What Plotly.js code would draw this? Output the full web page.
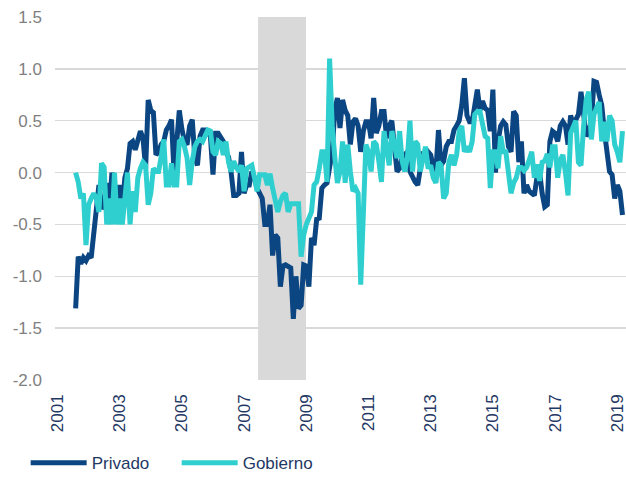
<!DOCTYPE html>
<html>
<head>
<meta charset="utf-8">
<script src="https://cdn.plot.ly/plotly-3.0.1.min.js"></script>
<style>html,body{margin:0;padding:0;background:#fff}#chart{width:626px;height:477px}</style>
</head>
<body>
<div id="chart"></div>
<script>
// Monthly series starting August 2001
const startYear = 2001;
const startMonth = 8;
const privado = [
-1.31,-0.81,-0.88,-0.82,-0.85,-0.80,-0.82,-0.60,-0.35,-0.12,
-0.35,-0.30,-0.10,-0.38,0.00,-0.20,-0.35,-0.12,-0.35,-0.05,
0.04,0.28,0.30,0.22,0.30,0.40,0.33,0.04,0.70,0.60,
0.58,0.17,0.20,0.27,0.30,0.41,0.45,0.51,-0.02,0.30,
0.60,0.42,0.30,0.27,0.45,0.51,0.14,0.07,0.35,0.41,
0.41,0.38,0.35,-0.02,0.38,0.38,0.33,0.30,0.20,0.15,
0.00,-0.22,-0.22,-0.20,0.20,-0.20,-0.12,-0.12,0.01,-0.05,
-0.15,-0.20,-0.25,-0.50,-0.50,-0.31,-0.80,-0.60,-0.63,-1.10,
-0.90,-0.89,-0.90,-0.92,-1.41,-1.00,-1.31,-1.28,-0.89,-0.90,
-1.10,-0.63,-0.70,-0.45,-0.44,-0.15,-0.12,-0.10,0.05,0.20,
0.60,0.72,0.43,0.70,0.60,0.55,0.27,0.49,0.52,0.45,
0.20,0.40,0.49,0.49,0.33,0.72,0.38,0.45,0.59,0.59,
0.33,0.45,0.50,0.27,0.01,0.04,0.15,0.17,0.20,0.01,
-0.05,-0.09,-0.12,0.07,0.20,0.17,0.20,0.17,0.05,0.01,
0.41,0.07,0.11,0.25,0.30,0.30,0.41,0.45,0.50,0.65,
0.91,0.55,0.49,0.49,0.62,0.80,0.60,0.69,0.62,0.60,
0.40,0.80,0.00,0.30,0.45,0.49,0.46,0.25,0.20,0.59,
0.55,0.10,0.30,-0.20,-0.12,-0.18,-0.20,-0.22,-0.05,0.01,
-0.20,-0.33,-0.31,0.30,0.40,0.38,0.30,0.45,0.49,0.45,
0.27,0.55,0.46,0.50,0.56,0.78,0.60,0.35,0.40,0.49,
0.88,0.87,0.75,0.65,0.40,0.15,0.01,-0.02,-0.25,-0.12,
-0.18,-0.41
];
const gobierno = [
0.00,-0.09,-0.25,-0.20,-0.70,-0.31,-0.25,-0.20,-0.25,-0.38,
0.09,0.05,-0.50,-0.25,-0.50,0.00,-0.50,-0.25,-0.50,-0.25,
0.00,-0.50,-0.18,-0.38,-0.05,0.04,0.10,0.07,-0.31,-0.20,
0.04,0.01,0.01,0.15,0.32,-0.12,-0.12,0.09,-0.12,-0.12,
0.30,0.32,0.25,0.14,-0.12,0.11,0.25,0.30,0.32,0.30,
0.35,0.41,0.40,0.20,0.17,0.30,0.28,0.17,0.30,0.10,
0.01,0.11,0.05,0.01,0.07,-0.18,0.04,0.05,0.07,-0.05,
-0.18,-0.02,-0.02,-0.02,-0.12,-0.01,-0.15,-0.25,-0.38,-0.28,
-0.22,-0.20,-0.38,-0.30,-0.30,-0.30,-0.30,-0.81,-0.60,-0.50,
-0.44,-0.38,-0.12,-0.09,0.04,0.20,0.20,-0.09,1.10,0.45,
0.15,-0.10,0.01,0.30,-0.10,0.27,0.01,-0.18,-0.15,-0.20,
-1.08,-0.30,0.27,0.20,0.01,0.30,0.27,0.11,-0.09,0.40,
0.20,0.07,0.40,0.27,0.14,0.40,0.11,0.01,0.14,0.50,
0.01,0.30,0.27,0.01,0.15,0.25,0.04,0.07,-0.05,-0.10,
0.10,0.07,-0.25,-0.20,0.10,0.17,0.07,0.17,0.40,0.45,
0.20,0.25,0.20,0.30,0.56,0.59,0.59,0.45,0.35,0.33,
-0.15,0.20,0.20,0.04,0.35,0.20,0.20,0.00,-0.20,-0.10,
-0.05,0.05,0.05,0.02,0.05,0.12,0.20,-0.05,0.08,-0.08,
0.10,0.11,0.18,0.05,0.25,0.25,-0.05,0.12,0.17,0.00,
-0.22,0.38,0.46,0.50,0.10,0.07,0.45,0.70,0.78,0.32,
0.56,0.62,0.68,0.30,0.49,0.30,0.55,0.50,0.27,0.20,
0.10,0.40
];
const tickYears = [2001,2003,2005,2007,2009,2011,2013,2015,2017,2019];
const tickLabels = ["2001","2003","2005","2007","2009","2011","2013","2015","2017","2019"];
const yTickVals = [-2.0,-1.5,-1.0,-0.5,0.0,0.5,1.0,1.5];
const yTickLabels = ["-2.0","-1.5","-1.0","-0.5","0.0","0.5","1.0","1.5"];
const recession = [2007.45, 2008.99];
const seriesNames = ["Privado","Gobierno"];

const xs = privado.map((_, i) => startYear + (startMonth - 1) / 12 + i / 12);

const traces = [
  {x: xs, y: privado, name: seriesNames[0], type: 'scatter', mode: 'lines',
   line: {color: '#0b4683', width: 5}},
  {x: xs, y: gobierno, name: seriesNames[1], type: 'scatter', mode: 'lines',
   line: {color: '#2fcfcf', width: 5}}
];

const layout = {
  width: 626, height: 477,
  margin: {l: 55, r: 0, t: 17, b: 97},
  paper_bgcolor: '#fff', plot_bgcolor: '#fff',
  font: {family: 'Liberation Sans, Arial, sans-serif', size: 17, color: '#808080'},
  showlegend: true,
  legend: {orientation: 'h', xref: 'container', yref: 'container',
           x: 0.041, xanchor: 'left', y: 0.029, yanchor: 'middle',
           font: {size: 17, color: '#1f3864'}, itemwidth: 56,
           entrywidth: 80, entrywidthmode: 'pixels', bgcolor: 'rgba(0,0,0,0)'},
  xaxis: {range: [2000.92, 2019.28], tickvals: tickYears, ticktext: tickLabels,
          tickangle: -90, showgrid: false, zeroline: false, showline: false,
          ticks: '', ticklabelstandoff: 10, ticklabeloverflow: 'allow',
          tickfont: {size: 17, color: '#1f3864'}},
  yaxis: {range: [-2, 1.5], tickvals: yTickVals, ticktext: yTickLabels,
          showgrid: true, gridcolor: '#d9d9d9', gridwidth: 1.5, zeroline: false,
          showline: false, ticks: '', ticklabelstandoff: 12,
          tickfont: {size: 17, color: '#808080'}},
  shapes: [{type: 'rect', xref: 'x', yref: 'paper', x0: recession[0], x1: recession[1],
            y0: 0, y1: 1, fillcolor: '#d9d9d9', line: {width: 0}, layer: 'below'}]
};

Plotly.newPlot('chart', traces, layout, {displayModeBar: false, staticPlot: true});
</script>
</body>
</html>
